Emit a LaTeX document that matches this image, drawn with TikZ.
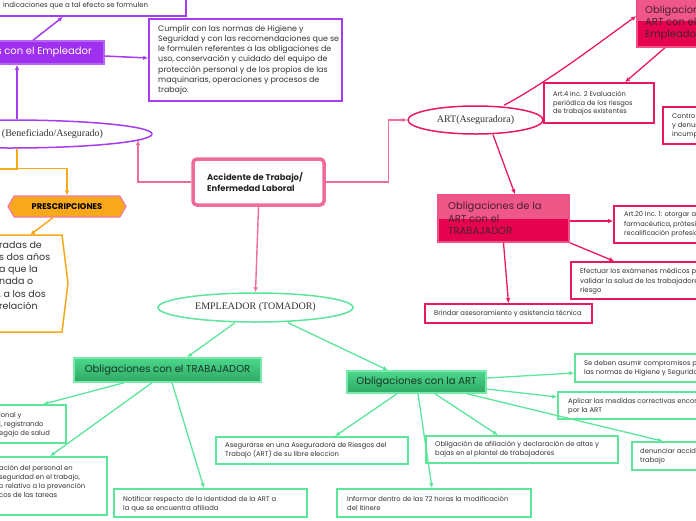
\documentclass[tikz,border=0pt]{standalone}
\usepackage{fontspec}
\setmainfont{Poppins}
\newfontfamily\seriff{Liberation Serif}
\usetikzlibrary{shapes.geometric,shapes.symbols,arrows.meta,calc}
\definecolor{purp}{HTML}{A53CEE}
\definecolor{purpfill}{HTML}{A030F0}
\definecolor{purpbord}{HTML}{B865F5}
\definecolor{pinkl}{HTML}{F06A9B}
\definecolor{pinkb}{HTML}{F27AAA}
\definecolor{crim}{HTML}{E8195E}
\definecolor{crimtop}{HTML}{EE5787}
\definecolor{crimbot}{HTML}{E5024F}
\definecolor{crimbord}{HTML}{F0508A}
\definecolor{ctext}{HTML}{4A1F33}
\definecolor{grn}{HTML}{5CE59B}
\definecolor{grnbord}{HTML}{78EAAB}
\definecolor{grntop}{HTML}{4CD88C}
\definecolor{grnbot}{HTML}{2FA862}
\definecolor{gtext}{HTML}{173626}
\definecolor{orng}{HTML}{F7A81B}
\definecolor{txt}{HTML}{333333}
\tikzset{
  wbox/.style={rectangle, draw, fill=white, line width=1.6pt, inner sep=0pt},
  pbox/.style={wbox, draw=purp},
  cbox/.style={wbox, draw=crim},
  gbox/.style={wbox, draw=grn},
  txtS/.style={inner sep=0pt, align=left, anchor=west, text=txt, font=\fontsize{6.8}{9}\selectfont},
  txtM/.style={inner sep=0pt, align=left, anchor=west, text=txt, font=\fontsize{7.9}{10.3}\selectfont},
  txtL/.style={inner sep=0pt, align=left, text=txt, font=\fontsize{9.5}{12.2}\selectfont},
  cfill/.style={rectangle, draw=crimbord, line width=1.5pt, fill=crimbot, inner sep=0pt,
    path picture={\fill[crimtop] (path picture bounding box.north west) rectangle (path picture bounding box.east);}},
  ctxt/.style={inner sep=0pt, align=left, anchor=west, text=ctext, font=\fontsize{10}{12.4}\selectfont},
  gfill/.style={rectangle, draw=grnbord, line width=1.5pt, top color=grntop, bottom color=grnbot, inner sep=0pt,
    text=gtext, font=\fontsize{10}{12}\selectfont},
  ell/.style={ellipse, line width=1.5pt, fill=white, inner sep=0pt, text=txt, font=\seriff\fontsize{10}{12}\selectfont},
  arr/.style={-{Latex[length=5pt,width=4.5pt]}, line width=1.3pt},
  parr/.style={arr, draw=purp, line width=1.5pt},
  oarr/.style={arr, draw=orng, line width=1.5pt},
  oline/.style={draw=orng, line width=1.5pt},
  pinkarr/.style={arr, draw=pinkl, line width=1.4pt},
  carr/.style={arr, draw=crim},
  garr/.style={arr, draw=grn},
}
\begin{document}
\begin{tikzpicture}[x=1pt,y=-1pt]
\useasboundingbox (0,0) rectangle (696,520);
\clip (0,0) rectangle (696,520);

% ---------- purple ----------
\node[pbox, minimum width=196pt, minimum height=36pt] (tb) at (88,-2) {};
\node[txtS, font=\fontsize{7}{9}\selectfont] (tbt) at (3,6) {indicaciones que a tal efecto se formulen};
\node[rectangle, fill=purpfill, draw=purpbord, line width=1.5pt, minimum width=164pt, minimum height=23pt, inner sep=0pt] (emp) at (22,52.5) {};
\node[inner sep=0pt, anchor=east, text=white, font=\fontsize{10}{12}\selectfont] (empt) at (92,52.5) {Obligaciones con el Empleador};
\node[pbox, minimum width=193pt, minimum height=82pt] (cum) at (245.5,60) {};
\node[txtM] (cumt) at (158,60) {Cumplir con las normas de Higiene y\\Seguridad y con las recomendaciones que se\\le formulen referentes a las obligaciones de\\uso, conservación y cuidado del equipo de\\protección personal y de los propios de las\\maquinarias, operaciones y procesos de\\trabajo.};
\node[ell, draw=purp, minimum width=284pt, minimum height=28pt] (ben) at (10,134) {};
\node[inner sep=0pt, text=txt, font=\seriff\fontsize{10}{12}\selectfont] (bent) at (52.5,134) {(Beneficiado/Asegurado)};

% ---------- orange ----------
\node[signal, signal to=west and east, signal pointer angle=120, fill=orng, draw=pinkb, line width=1.2pt,
  minimum width=118pt, minimum height=21pt, inner sep=0pt, text=black,
  font=\bfseries\fontsize{8.3}{9}\selectfont] (presc) at (67,206.5) {PRESCRIPCIONES};
\draw[draw=orng, fill=white, line width=1.5pt] (-10,235) -- (62,235) -- (68,283) -- (62,332) -- (-10,332) -- cycle;
\coordinate (pbt) at (30,235);
\coordinate (oleft) at (-5,169);
\node[txtL, anchor=north west] (pbtx) at (-1,241) {radas de\\s dos años\\a que la\\nada o\\, a los dos\\relación};

% ---------- central ----------
\node[rectangle, draw=pinkl, line width=3.5pt, rounded corners=4pt, fill=white, minimum width=131pt, minimum height=46pt, inner sep=0pt] (cen) at (258.5,182) {};
\node[inner sep=0pt, anchor=west, align=left, text=black!85, font=\bfseries\fontsize{8.4}{10.2}\selectfont] (cent) at (207,182) {Accidente de Trabajo/\\Enfermedad Laboral};

% ---------- green ----------
\node[ell, draw=grn, minimum width=195pt, minimum height=29pt] (emp2) at (255.5,307.5) {EMPLEADOR (TOMADOR)};
\node[gfill, minimum width=187pt, minimum height=24pt] (ot) at (167.5,370) {Obligaciones con el TRABAJADOR};
\node[gfill, minimum width=139pt, minimum height=22pt] (oa) at (416.5,382) {Obligaciones con la ART};
\node[gbox, minimum width=76pt, minimum height=38pt] (g1) at (28,424) {};
\node[txtS] (g1t) at (-1,424.5) {ional y\\l, registrando\\egajo de salud};
\node[gbox, minimum width=117pt, minimum height=58pt] (g2) at (48.5,486) {};
\node[txtS] (g2t) at (-1,481.5) {ación del personal en\\seguridad en el trabajo,\\o relativo a la prevención\\cos de las tareas};
\node[gbox, minimum width=193pt, minimum height=28pt] (g3) at (210.5,503) {};
\node[txtS] (g3t) at (123,504) {Notificar respecto de la identidad de la ART a\\la que se encuentra afiliada};
\node[gbox, minimum width=192pt, minimum height=27pt] (g4) at (312,450.5) {};
\node[txtS] (g4t) at (225,450.5) {Asegurarse en una Aseguradora de Riesgos del\\Trabajo (ART) de su libre eleccion};
\node[gbox, minimum width=192pt, minimum height=27pt] (g5) at (522,449.5) {};
\node[txtS] (g5t) at (435,449.5) {Obligación de afiliación y declaración de altas y\\bajas en el plantel de trabajadores};
\node[gbox, minimum width=194pt, minimum height=28pt] (g6) at (434,503) {};
\node[txtS] (g6t) at (347,503.5) {Informar dentro de las 72 horas la modificación\\del itinere};
\node[gbox, minimum width=185pt, minimum height=28pt] (g7) at (667.5,368) {};
\node[txtS] (g7t) at (584,368.5) {Se deben asumir compromisos para cumplir con\\las normas de Higiene y Seguridad};
\node[gbox, minimum width=202pt, minimum height=27pt] (g8) at (659,405.5) {};
\node[txtS] (g8t) at (568,406.5) {Aplicar las medidas correctivas encomendadas\\por la ART};
\node[gbox, minimum width=128pt, minimum height=28pt] (g9) at (696,456) {};
\node[txtS] (g9t) at (640,456) {denunciar accidentes de\\trabajo};

% ---------- crimson ----------
\node[ell, draw=crim, minimum width=135pt, minimum height=28pt] (art) at (475.5,120) {ART(Aseguradora)};
\node[cfill, minimum width=123pt, minimum height=52pt] (ce) at (698.5,21) {};
\node[ctxt] (cet) at (645,23) {Obligaciones de la\\ART con el\\Empleador};
\node[cbox, minimum width=110pt, minimum height=40pt] (a4) at (599,103) {};
\node[txtS, font=\fontsize{6.7}{8.7}\selectfont] (a4t) at (553,103.5) {Art.4 Inc. 2 Evaluación\\periódica de los riesgos\\de trabajos existentes};
\node[cbox, minimum width=97pt, minimum height=37pt] (ctl) at (711.5,125.5) {};
\node[txtS] (ctlt) at (672,126) {Controlar el cumplimiento\\y denunciar los\\incumplimientos};
\node[cfill, minimum width=131pt, minimum height=47pt] (ct) at (503.5,218.5) {};
\node[ctxt] (ctt) at (448,218.5) {Obligaciones de la\\ART con el\\TRABAJADOR};
\node[cbox, minimum width=146pt, minimum height=37pt] (a20) at (687,224.5) {};
\node[txtS, font=\fontsize{6.7}{9.5}\selectfont] (a20t) at (624,224.5) {Art.20 Inc. 1: otorgar asistencia\\farmacéutica, prótesis y ortopedia\\recalificación profesional};
\node[cbox, minimum width=189pt, minimum height=37pt] (ef) at (665.5,280.5) {};
\node[txtS, font=\fontsize{6.9}{9.5}\selectfont] (eft) at (580,281.5) {Efectuar los exámenes médicos periódicos para\\validar la salud de los trabajadores expuestos a\\riesgo};
\node[cbox, minimum width=167pt, minimum height=19pt] (br) at (508.5,313.5) {};
\node[txtS] (brt) at (434,313.5) {Brindar asesoramiento y asistencia técnica};

% ---------- connectors ----------
\draw[parr] ([xshift=11pt]emp.north) -- ([xshift=-25pt]tb.south);
\draw[parr] ([yshift=-3.5pt]emp.east) -- ([yshift=2pt]cum.west);
\draw[parr] ([xshift=7pt]ben.north) -- ([xshift=-5pt]emp.south);

\draw[oline] ([xshift=7pt]ben.south) |- (oleft);
\draw[oarr] ([xshift=7pt]ben.south) |- ([yshift=27pt]presc.north) -- (presc.north);
\draw[oarr] ([xshift=-14pt]presc.south) -- (pbt);

\coordinate (benR) at (138,140);
\draw[pinkarr] (cen.west) -| (benR);
\draw[pinkarr] (cen.east) -- ++(63,0) |- (art.west);
\draw[pinkarr] (cen.south) -- (emp2.north);

\draw[carr] ([xshift=28.5pt]art.north) .. controls (548,82) and (600,42) .. ([yshift=5pt]ce.west);
\draw[carr] ([xshift=-33.5pt]ce.south) -- ([xshift=26pt]a4.north);
\draw[carr] ([xshift=17.5pt]art.south) -- ([xshift=11.5pt]ct.north);
\draw[carr] ([yshift=-2.5pt]ct.east) -- ([yshift=3.5pt]a20.west);
\draw[carr] (ct.south east) -- ([xshift=44pt]ef.north west);
\draw[carr] (ct.south) -- (br.north);

\draw[garr] ([xshift=-20.5pt]emp2.south) -- ([xshift=19.5pt]ot.north);
\draw[garr] ([xshift=32.5pt]emp2.south) -- ([xshift=-28.5pt]oa.north);
\draw[garr] ([xshift=-43.5pt]ot.south) -- ([xshift=15pt]g1.north);
\draw[garr] ([xshift=-15.5pt]ot.south) -- ([xshift=1.5pt]g2.north);
\draw[garr] ([xshift=4.5pt]ot.south) -- ([xshift=-6.5pt]g3.north);
\draw[garr] ([yshift=4pt]oa.east) -- ([yshift=-5pt]g7.west);
\draw[garr] ([yshift=-7pt]oa.east) -- ([yshift=8.5pt]g8.west);
\draw[garr] ([xshift=50.5pt]oa.south) -- ([xshift=-33pt]g9.north);
\draw[garr] ([xshift=18.5pt]oa.south) -- ([xshift=-24pt]g5.north);
\draw[garr] ([xshift=1.5pt]oa.south) -- ([xshift=-2pt]g6.north);
\draw[garr] ([xshift=-19.5pt]oa.south) -- ([xshift=23pt]g4.north);
\end{tikzpicture}
\end{document}
